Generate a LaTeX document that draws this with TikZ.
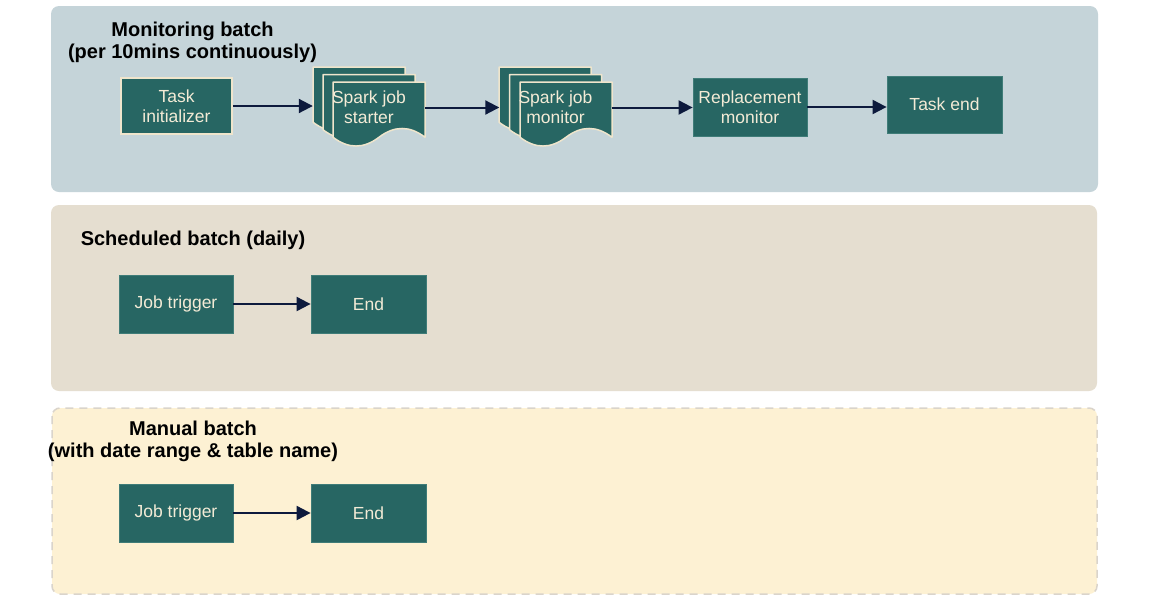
\documentclass[tikz,border=0pt]{standalone}
\usepackage{fontspec}
\setmainfont{Liberation Sans}
\usetikzlibrary{arrows.meta}
\definecolor{boxteal}{HTML}{276663}
\definecolor{boxedge}{HTML}{3F7C78}
\definecolor{creamline}{HTML}{EFE5CC}
\definecolor{boxtext}{HTML}{F3EBD6}
\definecolor{panelblue}{HTML}{C5D4D9}
\definecolor{panelsand}{HTML}{E5DED0}
\definecolor{panelyellow}{HTML}{FDF1D3}
\definecolor{paneldash}{HTML}{DAD4CB}
\definecolor{arrownavy}{HTML}{0D1A3D}
\newcommand{\mydoc}[4]{%
  \filldraw[docstyle] (#1,#2) -- (#1+#3,#2) -- (#1+#3,#2+0.85*#4)
    .. controls (#1+0.8333*#3,#2+0.67*#4) and (#1+0.6667*#3,#2+0.67*#4) .. (#1+0.5*#3,#2+0.85*#4)
    .. controls (#1+0.3333*#3,#2+1.03*#4) and (#1+0.1667*#3,#2+1.03*#4) .. (#1,#2+0.85*#4) -- cycle;}
\begin{document}
\begin{tikzpicture}[x=1pt,y=-1pt,
  panel/.style={rounded corners=8pt},
  boxn/.style={draw=boxedge, line width=0.8pt, fill=boxteal, text=boxtext,
    font=\fontsize{17.5}{20}\selectfont, align=center, inner sep=0pt},
  creambox/.style={boxn, draw=creamline, line width=1.5pt},
  docstyle/.style={fill=boxteal, draw=creamline, line width=1.5pt, line join=round},
  doctext/.style={text=boxtext, font=\fontsize{17.5}{20}\selectfont, align=center,
    inner sep=0pt, minimum width=112pt, minimum height=79pt},
  title/.style={font=\bfseries\fontsize{20}{22}\selectfont, align=center, text=black},
  arr/.style={draw=arrownavy, line width=2pt, -{Triangle[length=14pt,width=14pt]}}]
\useasboundingbox (0,0) rectangle (1150,603);
\fill[white] (0,0) rectangle (1150,603);
% panels
\fill[panel, panelblue] (51,6) rectangle (1098,192);
\fill[panel, panelsand] (51,205) rectangle (1097,391);
\filldraw[panel, fill=panelyellow, draw=paneldash, line width=1.5pt, dash pattern=on 8pt off 6pt] (52,408) rectangle (1097,594);
% titles
\node[title] (t1) at (192.5,42) {Monitoring batch\\(per 10mins continuously)};
\node[title] (t2) at (193,240) {Scheduled batch (daily)};
\node[title] (t3) at (193,441.5) {Manual batch\\(with date range \& table name)};
% monitoring batch
\node[creambox, minimum width=111pt, minimum height=56pt] (ti) at (176.5,106) {Task\\initializer};
\mydoc{313}{67}{92}{65}
\mydoc{323}{74.5}{92}{65}
\mydoc{333}{82}{92}{65}
\node[doctext] (sjs) at (369,107.5) {Spark job\\starter};
\mydoc{499}{67}{92}{65}
\mydoc{509.5}{74.5}{92}{65}
\mydoc{520}{82}{92}{65}
\node[doctext] (sjm) at (555.5,107.5) {Spark job\\monitor};
\node[boxn, minimum width=114pt, minimum height=58pt] (rm) at (750,107) {Replacement\\monitor};
\node[boxn, minimum width=115pt, minimum height=57pt] (te) at (944.5,104.5) {Task end};
\draw[arr] (ti.east) -- (ti.east -| sjs.west);
\draw[arr] (sjs.east) -- (sjs.east -| sjm.west);
\draw[arr] (sjm.east) -- (sjm.east -| rm.west);
\draw[arr] (rm.east) -- (rm.east -| te.west);
% scheduled batch
\node[boxn, minimum width=114pt, minimum height=58pt] (jt1) at (176,304) {Job trigger};
\node[boxn, minimum width=115pt, minimum height=58pt] (e1) at (368.5,304) {End};
\draw[arr] (jt1) -- (e1);
% manual batch
\node[boxn, minimum width=114pt, minimum height=58pt] (jt2) at (176,513) {Job trigger};
\node[boxn, minimum width=115pt, minimum height=58pt] (e2) at (368.5,513) {End};
\draw[arr] (jt2) -- (e2);
\end{tikzpicture}
\end{document}
